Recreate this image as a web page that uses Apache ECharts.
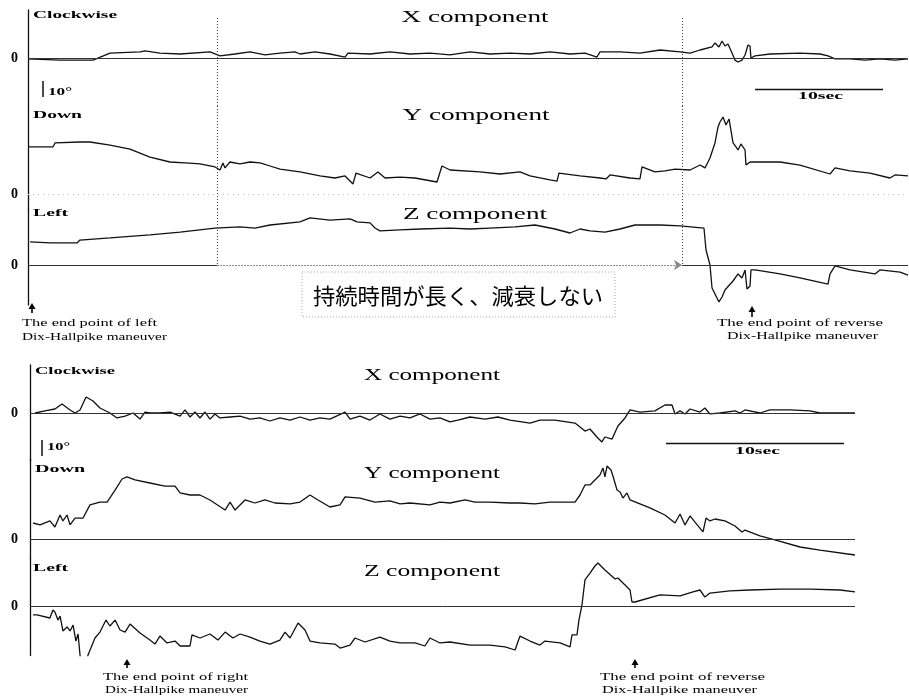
<!DOCTYPE html>
<html><head><meta charset="utf-8">
<script src="https://cdn.jsdelivr.net/npm/echarts@6/dist/echarts.min.js"></script>
<style>html,body{margin:0;padding:0;background:#fff}#c{width:909px;height:699px}</style>
</head><body><div id="c"></div>
<script>
// ---------- DATA (time in s, angle in degrees) ----------
// Upper recording (left Dix-Hallpike)
const topX = [[0,-0.6],[2.5,-1.3],[5.08,-1.3],[6.41,3.1],[8.75,3.8],[9.14,4.4],[10.31,3.1],[11.88,2.5],[14.22,3.8],[15.0,1.3],[16.17,2.5],[17.34,3.8],[18.52,1.9],[19.69,3.1],[20.86,3.8],[21.25,2.5],[22.42,3.8],[23.59,2.5],[24.77,0.6],[25.0,3.1],[26.72,2.5],[28.28,3.8],[29.84,2.5],[31.41,3.1],[32.97,1.9],[34.53,3.8],[36.09,2.5],[37.66,3.1],[39.22,2.5],[40.78,3.8],[42.34,2.5],[43.52,3.1],[44.45,0.6],[44.69,3.8],[46.25,3.8],[47.81,3.1],[49.38,5.0],[50.94,3.8],[51.72,3.1],[52.5,5.0],[53.44,6.9],[53.67,9.4],[53.98,6.9],[54.22,10.6],[54.45,7.5],[54.69,8.8],[55.0,3.1],[55.23,-1.3],[55.47,-2.5],[55.78,-1.3],[56.02,1.9],[56.25,8.1],[56.41,7.5],[56.48,0],[56.8,1.3],[57.97,2.5],[60.31,3.1],[61.88,2.5],[62.5,1.3],[63.05,-0.6],[64.22,-0.6],[65.39,-1.3],[66.56,-0.6],[67.73,-1.3],[68.75,-0.6]];
const topY = [[0,29.4],[1.95,29.4],[2.11,31.9],[4.06,32.5],[4.84,32.5],[6.41,30.6],[7.97,28.1],[9.53,23.1],[11.09,20.0],[12.27,19.4],[13.44,18.8],[14.61,16.9],[15.0,15.0],[15.23,19.4],[15.39,16.3],[15.78,20.0],[16.56,18.8],[17.34,20.0],[18.13,19.4],[18.91,17.5],[19.69,15.6],[21.25,13.8],[22.81,11.3],[23.98,10.0],[24.77,11.3],[25.39,6.3],[25.63,13.1],[26.72,10.0],[27.34,13.8],[27.89,10.0],[29.06,10.6],[30.23,10.0],[31.95,7.5],[32.34,17.5],[32.97,15.0],[35.31,13.8],[36.88,12.5],[38.44,13.8],[39.22,11.3],[40.78,8.8],[41.33,8.1],[41.48,13.1],[43.13,11.3],[44.69,10.0],[45.16,9.4],[45.47,11.9],[47.03,10.0],[47.81,9.4],[47.97,16.9],[48.98,13.8],[49.77,14.4],[50.55,15.6],[51.72,15.0],[52.5,18.1],[52.89,16.3],[53.28,22.5],[53.67,31.9],[53.91,41.9],[54.06,45.0],[54.3,48.1],[54.53,43.1],[54.77,46.9],[55.08,31.9],[55.31,29.4],[55.47,27.5],[55.7,31.3],[56.02,27.5],[56.09,18.1],[56.41,20.0],[58.75,20.0],[60.31,18.1],[62.66,12.5],[63.05,16.3],[64.22,14.4],[65.78,13.1],[67.34,10.0],[67.73,11.9],[68.75,11.3]];
const topZ = [[0.16,14.4],[1.72,13.8],[3.83,13.8],[4.06,15.6],[6.41,16.9],[9.53,18.8],[11.88,20.6],[14.61,23.1],[16.56,23.8],[17.73,23.1],[18.91,25.0],[21.25,26.9],[22.03,29.4],[23.59,28.1],[25.16,28.8],[25.7,26.9],[26.72,26.3],[27.11,23.1],[27.5,21.3],[29.06,21.9],[30.63,22.5],[32.97,23.1],[34.53,22.5],[36.09,23.1],[38.05,23.8],[39.61,25.0],[41.17,22.5],[42.34,20.0],[43.13,22.5],[43.91,21.3],[45.08,20.6],[46.25,22.5],[47.42,25.0],[49.38,25.0],[50.94,24.4],[52.81,23.1],[52.97,9.4],[53.28,0],[53.44,-14.4],[53.75,-19.4],[53.98,-23.1],[54.22,-20.0],[54.45,-15.6],[55.08,-10.0],[55.47,-5.6],[55.78,-8.1],[56.02,-3.1],[56.17,-15.0],[56.41,-13.1],[56.48,-3.1],[56.8,-3.1],[58.75,-5.6],[60.31,-8.1],[62.5,-11.9],[62.66,-5.6],[63.05,-0.6],[64.22,-3.1],[66.17,-5.6],[66.56,-3.1],[68.13,-4.4],[68.75,-6.3]];
// Lower recording (right Dix-Hallpike)
const botX = [[0.28,0],[0.84,1.3],[1.4,2.5],[1.8,5.6],[2.25,1.9],[2.53,0],[2.81,1.9],[3.15,10.0],[3.54,7.5],[3.93,3.1],[4.49,0],[4.89,-3.1],[5.34,-1.9],[5.79,0],[6.18,-3.8],[6.46,0.6],[6.74,0],[7.3,0],[7.87,0.6],[8.43,-1.9],[8.71,1.9],[8.99,-2.5],[9.27,0.6],[9.55,-3.1],[9.83,0.6],[10.11,-3.8],[10.39,-0.6],[10.67,-3.1],[11.24,-2.5],[11.8,-1.9],[12.36,-3.8],[12.92,-3.1],[13.48,-5.0],[14.04,-3.1],[14.61,-4.4],[15.17,-2.5],[15.73,-4.4],[16.29,-3.1],[16.85,-3.8],[17.7,0.6],[17.98,-3.8],[18.54,-1.9],[19.1,-4.4],[19.66,-0.6],[20.22,-3.8],[20.79,-1.9],[21.35,-3.1],[21.91,-0.6],[22.47,-3.8],[23.03,-3.1],[23.6,-5.6],[24.04,-4.4],[24.72,-2.5],[25.56,-3.8],[26.29,-2.5],[26.97,-4.4],[28.09,-6.3],[28.65,-4.4],[29.49,-4.4],[30.62,-6.3],[30.9,-8.8],[31.18,-11.3],[31.46,-10.0],[31.85,-15.0],[32.13,-18.1],[32.3,-15.0],[32.7,-16.3],[33.03,-8.1],[33.43,-3.1],[33.71,1.9],[34.27,0.6],[35.11,1.3],[35.67,5.0],[36.07,5.0],[36.24,-0.6],[36.52,1.3],[36.8,-0.6],[37.08,2.5],[37.64,0.6],[37.92,3.1],[38.2,-0.6],[38.76,0],[39.61,1.3],[39.89,0],[40.17,1.9],[41.01,0],[41.57,1.9],[42.7,1.9],[43.82,1.3],[44.38,0],[46.35,0]];
const botY = [[0.17,10.0],[0.56,8.8],[1.12,11.3],[1.4,7.5],[1.69,15.0],[1.85,11.3],[2.08,15.0],[2.25,8.8],[2.53,13.1],[2.98,13.1],[3.37,21.3],[3.93,23.1],[4.33,23.1],[4.78,30.6],[5.17,37.5],[5.45,38.8],[5.9,36.9],[6.74,35.0],[7.58,33.1],[8.15,33.1],[8.43,28.8],[8.99,27.5],[9.55,27.5],[10.11,24.4],[10.96,18.1],[11.24,23.1],[11.52,18.1],[12.08,24.4],[12.64,22.5],[13.2,24.4],[13.76,22.5],[14.61,21.9],[15.17,23.1],[15.73,27.5],[16.18,24.4],[16.85,20.0],[17.42,21.3],[17.7,26.3],[18.54,25.6],[19.38,23.1],[20.22,23.8],[20.79,21.9],[21.35,22.5],[22.47,21.3],[23.03,23.1],[23.6,22.5],[24.44,24.4],[25.0,23.1],[25.84,23.1],[26.97,22.5],[27.53,22.5],[28.37,21.9],[29.21,23.1],[30.62,23.1],[30.9,27.5],[31.18,33.8],[31.46,33.8],[31.74,36.9],[32.02,40.0],[32.19,44.4],[32.3,38.8],[32.42,45.6],[32.64,43.1],[32.75,39.4],[32.98,30.6],[33.15,29.4],[33.31,25.6],[33.54,28.8],[33.71,24.4],[34.83,19.4],[35.67,15.0],[36.24,10.0],[36.52,15.6],[36.8,8.8],[37.08,14.4],[37.36,10.6],[37.81,4.4],[37.98,13.1],[38.2,11.3],[38.48,12.5],[39.04,11.3],[39.61,8.1],[40.0,4.4],[40.17,5.6],[41.01,1.9],[41.85,-0.6],[43.26,-5.0],[44.38,-6.9],[46.35,-10.0]];
const botZ = [[0.17,-5.6],[0.39,-5.6],[1.12,-7.5],[1.29,-2.5],[1.4,-3.8],[1.57,-8.8],[1.69,-6.3],[1.85,-15.6],[2.08,-13.1],[2.25,-15.6],[2.42,-11.9],[2.58,-21.9],[2.7,-17.5],[2.81,-30.6],[2.9,-40],[3.1,-40],[3.26,-30.6],[3.65,-20.0],[3.93,-16.3],[4.27,-8.8],[4.49,-12.5],[4.78,-8.8],[5.06,-15.0],[5.34,-16.3],[5.62,-11.3],[6.18,-16.9],[6.74,-21.3],[7.02,-23.8],[7.3,-18.8],[7.7,-23.1],[8.15,-21.9],[8.43,-25.0],[8.99,-25.0],[9.1,-18.1],[9.55,-20.0],[10.11,-17.5],[10.56,-21.3],[10.96,-16.3],[11.4,-20.0],[11.8,-17.5],[12.36,-19.4],[12.92,-21.9],[13.48,-23.8],[14.04,-21.3],[14.33,-16.3],[14.61,-20.0],[15.06,-10.6],[15.45,-15.0],[15.73,-21.9],[16.29,-23.1],[17.13,-23.8],[17.42,-26.3],[17.98,-24.4],[18.26,-20.0],[18.82,-22.5],[19.66,-19.4],[20.22,-21.9],[20.79,-23.1],[21.63,-23.1],[22.19,-25.0],[22.47,-20.0],[23.03,-23.1],[23.6,-22.5],[24.72,-24.4],[25.84,-24.4],[26.69,-25.6],[27.25,-27.5],[27.53,-18.8],[28.09,-21.9],[28.65,-24.4],[28.93,-21.9],[29.78,-23.1],[30.34,-25.6],[30.45,-18.1],[30.73,-18.1],[30.84,-8.8],[31.01,0.6],[31.18,16.3],[31.46,20.6],[31.74,25.0],[31.91,26.9],[32.3,22.5],[32.87,16.9],[33.03,17.5],[33.43,13.1],[33.71,10.0],[33.82,2.5],[33.99,2.5],[35.39,6.9],[36.52,6.3],[37.25,8.8],[37.64,10.0],[37.92,5.6],[38.2,8.1],[39.33,9.4],[40.45,10.0],[42.13,10.6],[43.82,10.6],[45.51,10.0],[46.35,8.8]];

const traces = [topX, topY, topZ, botX, botY, botZ];
const componentTitles = ['X component', 'Y component', 'Z component'];
const directionLabels = ['Clockwise', 'Down', 'Left'];
const markerTimesTop = [14.77, 51.09];   // dotted vertical marks (s)
const durationTop = 68.75, durationBot = 46.35;
const scaleSec = 10, scaleDeg = 10;
const noteJa = '持続時間が長く、減衰しない';

// ---------- LAYOUT ----------
const grids = [
  {left:28, right:1, top:10, height:96, min:-30, max:30, iv:30, tmax:durationTop, m:10},
  {left:28, right:1, top:106, height:104, min:-10, max:55, iv:5, tmax:durationTop, m:10},
  {left:28, right:1, top:209, height:96, min:-25, max:35, iv:5, tmax:durationTop, m:10},
  {left:30, right:54, top:365, height:96, min:-30, max:30, iv:30, tmax:durationBot, m:12},
  {left:30, right:54, top:459, height:99.2, min:-12, max:50, iv:12, tmax:durationBot, m:12},
  {left:30, right:54, top:558, height:97.6, min:-31, max:30, iv:31, tmax:durationBot, m:12}
];

const chart = echarts.init(document.getElementById('c'), null, {renderer:'canvas'});
const dark = {color:'#333', width:1, type:'solid'};
const dots = {color:'#444', width:1, type:[1,2]};

const series = [];
traces.forEach((d, i) => {
  series.push({type:'line', xAxisIndex:i, yAxisIndex:i, data:d, symbol:'none', showSymbol:false,
    lineStyle:{color:'#111', width:1.3}, animation:false, silent:true, z:3, clip:true});
});
function mlSeries(i, data, sym){
  return {type:'line', xAxisIndex:i, yAxisIndex:i, data:[], silent:true, animation:false, z:2,
    markLine:{silent:true, symbol: sym || ['none','none'], symbolSize:8, label:{show:false}, animation:false,
      emphasis:{disabled:true}, data:data}};
}
function seg(x1,y1,x2,y2,style){ return [{coord:[x1,y1], lineStyle:style},{coord:[x2,y2], lineStyle:style}]; }
const [m1, m2] = markerTimesTop;
series.push(mlSeries(0, [
  {yAxis:0, lineStyle:dark},
  seg(m1,25,m1,-30,dots), seg(m2,25,m2,-30,dots),
  seg(56.8,-19.4,56.8+scaleSec,-19.4,{color:'#111',width:1.3,type:'solid'}),
  seg(1.17,-14.4,1.17,-14.4-scaleDeg,{color:'#111',width:1.5,type:'solid'})
]));
series.push(mlSeries(1, [
  {yAxis:0, lineStyle:{color:'#bbb', width:1, type:[1,4]}},
  seg(m1,55,m1,-10,dots), seg(m2,55,m2,-10,dots)
]));
series.push(mlSeries(2, [
  seg(0,0,m1,0,dark), seg(m2,0,durationTop,0,dark),
  seg(m1,35,m1,0,dots), seg(m2,35,m2,0,dots)
]));
series.push(mlSeries(2, [ seg(m1,0,m2,0,{color:'#888',width:1,type:[2,1]}) ], ['none','arrow']));
series.push(mlSeries(3, [
  {yAxis:0, lineStyle:dark},
  seg(35.73,-18.75,35.73+scaleSec,-18.75,{color:'#111',width:1.3,type:'solid'}),
  seg(0.67,-16.9,0.67,-16.9-scaleDeg,{color:'#111',width:1.5,type:'solid'})
]));
series.push(mlSeries(4, [{yAxis:0, lineStyle:dark}]));
series.push(mlSeries(5, [{yAxis:0, lineStyle:dark}]));

// ---------- TEXT helpers ----------
const mctx = document.createElement('canvas').getContext('2d');
function T(text, x, y, o){
  const fam = o.family || '"Liberation Serif", "DejaVu Serif", serif';
  const wt = o.weight || 'normal';
  const font = wt + ' ' + o.size + 'px ' + fam;
  mctx.font = font;
  const sx = o.w ? o.w / mctx.measureText(text).width : 1;
  const al = o.align || 'left';
  return {type:'text', x:x, y:y, scaleX:sx, silent:true, z:10,
    style:{text:text, x:0, y:0, font:font, fontSize:o.size, fontFamily:fam, fontWeight:wt,
      fill:o.color||'#000', align:al, verticalAlign:'middle', textAlign:al, textVerticalAlign:'middle'}};
}
function upArrow(x, yTip, yEnd){
  return [
    {type:'polygon', silent:true, shape:{points:[[x,yTip],[x-3.5,yTip+6],[x+3.5,yTip+6]]}, style:{fill:'#000'}},
    {type:'line', silent:true, shape:{x1:x,y1:yTip+4,x2:x,y2:yEnd}, style:{stroke:'#000', lineWidth:1.6}}
  ];
}
const B = {size:11, weight:'bold'};
const graphics = [
  T(directionLabels[0], 33, 15, {...B, w:84}),
  T(componentTitles[0], 475, 18, {size:17, w:147, align:'center'}),
  T('10°', 48, 92, {...B, w:24}),
  T(scaleSec + 'sec', 798, 96, {...B, w:45}),
  T(directionLabels[1], 33, 115, {...B, w:49}),
  T(componentTitles[1], 476, 116, {size:17, w:147, align:'center'}),
  T(directionLabels[2], 33, 213, {...B, w:35}),
  T(componentTitles[2], 475, 215, {size:17, w:144, align:'center'}),
  {type:'rect', silent:true, shape:{x:302, y:272, width:313, height:45}, style:{fill:'none', stroke:'#aaa', lineWidth:1, lineDash:[1,2]}},
  T(noteJa, 458, 296, {size:22, family:'"Noto Sans CJK JP", sans-serif', w:290, align:'center'}),
  T('The end point of left', 22, 323, {size:11, w:135}),
  T('Dix-Hallpike maneuver', 22, 337, {size:11, w:145}),
  T('The end point of reverse', 717, 323, {size:11, w:166}),
  T('Dix-Hallpike maneuver', 727, 336, {size:11, w:151}),
  ...upArrow(32, 303, 313),
  ...upArrow(752, 306, 317),
  T(directionLabels[0], 35, 371, {size:10, weight:'bold', w:80}),
  T(componentTitles[0], 432, 376, {size:16, w:136, align:'center'}),
  T('10°', 47, 447, {...B, w:23}),
  T(scaleSec + 'sec', 735, 451, {size:10, weight:'bold', w:45}),
  T(directionLabels[1], 35, 469, {size:10, weight:'bold', w:50}),
  T(componentTitles[1], 432, 474, {size:16, w:136, align:'center'}),
  T(directionLabels[2], 33, 568, {size:10, weight:'bold', w:35}),
  T(componentTitles[2], 432, 572, {size:16, w:136, align:'center'}),
  T('The end point of right', 103, 677, {size:11, w:145}),
  T('Dix-Hallpike maneuver', 105, 690, {size:11, w:143}),
  T('The end point of reverse', 600, 677, {size:11, w:165}),
  T('Dix-Hallpike maneuver', 602, 690, {size:11, w:155}),
  ...upArrow(127, 659, 668),
  ...upArrow(635, 659, 668)
];

chart.setOption({
  animation:false,
  backgroundColor:'#fff',
  grid: grids.map(g => ({left:g.left, right:g.right, top:g.top, height:g.height, containLabel:false})),
  xAxis: grids.map((g,i) => ({type:'value', gridIndex:i, min:0, max:g.tmax, show:false})),
  yAxis: grids.map((g,i) => ({type:'value', gridIndex:i, min:g.min, max:g.max, interval:g.iv,
    axisLine:{show:true, onZero:false, lineStyle:{color:'#111', width:1.3}},
    axisTick:{show:false}, splitLine:{show:false},
    axisLabel:{show:true, margin:g.m, color:'#000', fontFamily:'"Liberation Serif", serif', fontWeight:'bold', fontSize:14,
      formatter: v => (v === 0 ? '0' : '')}})),
  series: series,
  graphic: graphics
});
</script></body></html>
